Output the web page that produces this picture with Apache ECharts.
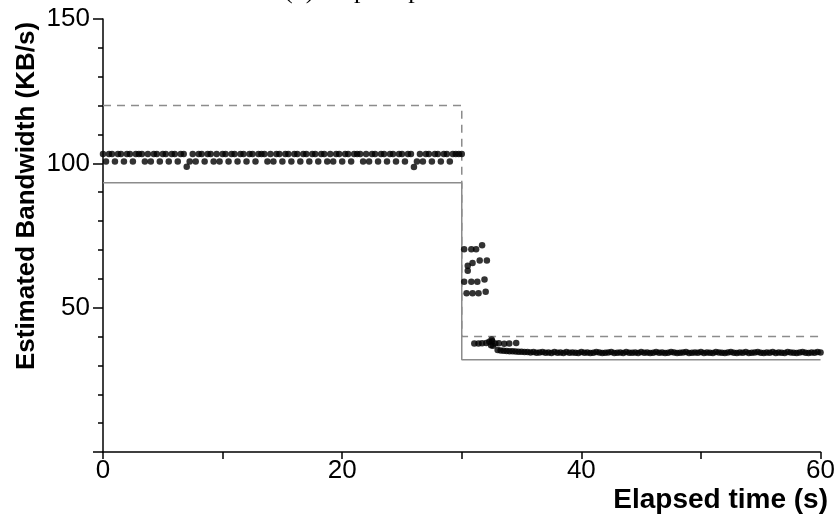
<!DOCTYPE html>
<html>
<head>
<meta charset="utf-8">
<script src="https://cdn.jsdelivr.net/npm/echarts@6/dist/echarts.min.js"></script>
<style>
  html, body { margin: 0; padding: 0; background: #fff; }
  #chart { width: 838px; height: 525px; }
</style>
</head>
<body>
<div id="chart"></div>
<script>
// Axis tick labels
const xTickLabels = [0, 20, 40, 60];
const yTickLabels = [50, 100, 150];

// Link capacity (dashed) and available bandwidth (solid) step profiles: [time, KB/s]
const capacityT = [0, 30, 30, 60];
const capacityV = [120, 120, 40, 40];
const availableT = [0, 30, 30, 60];
const availableV = [93.3, 93.3, 32, 32];

// Estimates before the drop, one sample every 0.25 s starting at 0 s
const phase1Start = 0;
const phase1Step = 0.25;
const phase1V = [
  103.2, 100.6, 103.2, 103.2, 100.6, 103.2, 103.2, 100.6, 103.2, 103.2,
  100.6, 103.2, 103.2, 103.2, 100.6, 103.2, 100.6, 103.2, 103.2, 100.6,
  103.2, 103.2, 100.6, 103.2, 103.2, 100.6, 103.2, 103.2, 98.8, 100.6,
  103.2, 100.6, 103.2, 103.2, 100.6, 103.2, 103.2, 100.6, 103.2, 100.6,
  103.2, 103.2, 100.6, 103.2, 103.2, 100.6, 103.2, 103.2, 100.6, 103.2,
  103.2, 100.6, 103.2, 103.2, 103.2, 100.6, 103.2, 100.6, 103.2, 103.2,
  100.6, 103.2, 103.2, 100.6, 103.2, 103.2, 100.6, 103.2, 103.2, 100.6,
  103.2, 103.2, 100.6, 103.2, 103.2, 100.6, 103.2, 100.6, 103.2, 103.2,
  100.6, 103.2, 103.2, 100.6, 103.2, 103.2, 103.2, 100.6, 103.2, 100.6,
  103.2, 103.2, 100.6, 103.2, 103.2, 100.6, 103.2, 103.2, 100.6, 103.2,
  103.2, 100.6, 103.2, 103.2, 98.7, 100.6, 103.2, 100.6, 103.2, 103.2,
  100.6, 103.2, 103.2, 100.6, 103.2, 103.2, 100.6, 103.2, 103.2, 103.2,
  103.2
];

// Estimates right after the drop
const transitionT = [
  30.2, 30.8, 31.2, 31.7,
  30.5, 30.5, 30.9, 31.5, 32.1,
  30.2, 30.8, 31.3, 31.9,
  30.4, 30.9, 31.4, 32.0,
  31.05, 31.4, 31.7, 32.05, 32.3, 32.45, 32.5, 32.55, 32.6, 32.8, 33.1, 33.55, 33.97, 34.55
];
const transitionV = [
  70.2, 70.2, 70.2, 71.6,
  64.5, 62.8, 65.5, 66.3, 66.3,
  59.0, 59.0, 59.0, 59.8,
  55.0, 55.0, 55.0, 55.5,
  37.6, 37.6, 37.7, 37.8, 38.2, 37.0, 39.0, 38.4, 36.8, 37.6, 37.7, 37.5, 37.6, 37.8
];

// Estimates after convergence, one sample every 0.25 s starting at 33 s
const phase2Start = 33.0;
const phase2Step = 0.25;
const phase2V = [
  35.3, 35.2, 35.1, 35.0, 34.9, 34.9, 34.8, 34.7, 34.7, 34.6,
  34.6, 34.5, 34.6, 34.4, 34.5, 34.6, 34.4, 34.5, 34.3, 34.6,
  34.4, 34.5, 34.3, 34.6, 34.4, 34.5, 34.4, 34.3, 34.6, 34.4,
  34.5, 34.3, 34.4, 34.6, 34.5, 34.3, 34.4, 34.5, 34.6, 34.3,
  34.4, 34.5, 34.3, 34.6, 34.4, 34.4, 34.5, 34.3, 34.6, 34.4,
  34.5, 34.3, 34.4, 34.6, 34.4, 34.5, 34.3, 34.4, 34.6, 34.5,
  34.3, 34.4, 34.5, 34.6, 34.3, 34.4, 34.5, 34.4, 34.6, 34.3,
  34.5, 34.4, 34.3, 34.6, 34.5, 34.4, 34.3, 34.5, 34.6, 34.4,
  34.3, 34.5, 34.4, 34.6, 34.3, 34.4, 34.5, 34.6, 34.4, 34.3,
  34.5, 34.4, 34.6, 34.3, 34.5, 34.4, 34.3, 34.6, 34.5, 34.4,
  34.3, 34.5, 34.6, 34.4, 34.3, 34.5, 34.4, 34.6, 34.5
];

const pairs = (ts, vs) => ts.map((t, i) => [t, vs[i]]);
const sampled = (start, step, vs) => vs.map((v, i) => [start + i * step, v]);

const estimates = sampled(phase1Start, phase1Step, phase1V)
  .concat(pairs(transitionT, transitionV))
  .concat(sampled(phase2Start, phase2Step, phase2V));

const tickFont = "'Liberation Sans Narrow', 'Liberation Sans', Arial, sans-serif";
const titleFont = "'Liberation Sans', Arial, sans-serif";

const chart = echarts.init(document.getElementById('chart'), null, { renderer: 'canvas' });
chart.setOption({
  backgroundColor: '#fff',
  animation: false,
  grid: { left: 103, right: 16, top: 19, bottom: 73 },
  xAxis: {
    type: 'value', min: 0, max: 60, interval: 10,
    axisLine: { onZero: false, lineStyle: { color: '#000', width: 1.5 } },
    axisTick: { length: 7, lineStyle: { color: '#000', width: 1.5 } },
    axisLabel: {
      margin: 6, color: '#000', fontSize: 26, fontFamily: tickFont,
      formatter: v => (xTickLabels.indexOf(v) >= 0 ? String(v) : '')
    },
    splitLine: { show: false }
  },
  yAxis: {
    type: 'value', min: 0, max: 150, interval: 50,
    axisLine: { show: true, lineStyle: { color: '#000', width: 1.5 } },
    axisTick: { show: true, length: 10, lineStyle: { color: '#000', width: 1.5 } },
    minorTick: { show: true, splitNumber: 5, length: 5, lineStyle: { color: '#000', width: 1.5 } },
    axisLabel: {
      margin: 13, color: '#000', fontSize: 26, fontFamily: tickFont,
      formatter: v => (yTickLabels.indexOf(v) >= 0 ? String(v) : '')
    },
    splitLine: { show: false }
  },
  graphic: [
    {
      type: 'text', x: 284, y: -22,
      style: { text: '(b) Step drop', font: "26px 'Liberation Serif', 'Times New Roman', serif", fill: '#000' }
    },
    {
      type: 'text', x: 27, y: 196, rotation: Math.PI / 2,
      style: {
        text: 'Estimated Bandwidth (KB/s)', fill: '#000',
        font: "bold 26px " + titleFont, align: 'center', verticalAlign: 'middle'
      }
    },
    {
      type: 'text', x: 828, y: 500,
      style: {
        text: 'Elapsed time (s)', fill: '#000',
        font: "bold 28px " + titleFont, align: 'right', verticalAlign: 'middle'
      }
    }
  ],
  series: [
    {
      type: 'line', data: pairs(capacityT, capacityV), symbol: 'none',
      lineStyle: { color: '#8c8c8c', width: 1.5, type: [8, 6] }, z: 2
    },
    {
      type: 'line', data: pairs(availableT, availableV), symbol: 'none',
      lineStyle: { color: '#8c8c8c', width: 1.5 }, z: 2
    },
    {
      type: 'scatter', data: estimates, symbol: 'circle', symbolSize: 6.5,
      itemStyle: { color: '#000' }, z: 3
    }
  ]
});
</script>
</body>
</html>
